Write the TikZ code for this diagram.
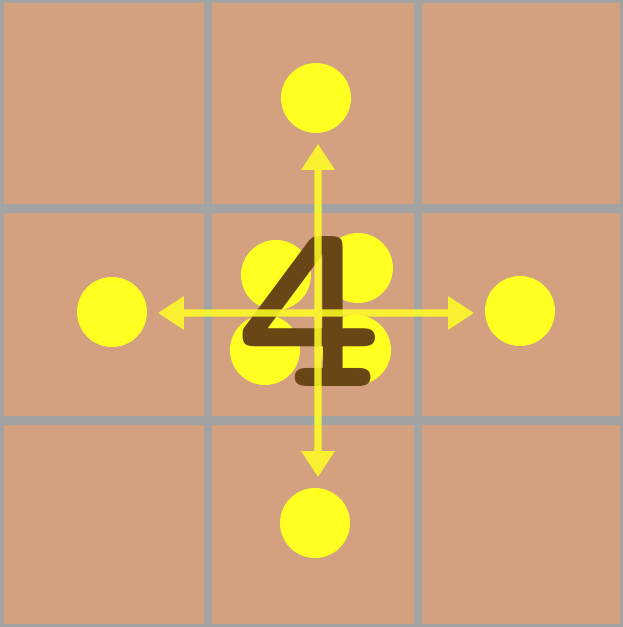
\documentclass[tikz,border=0pt]{standalone}
\usepackage{fontspec}
\usetikzlibrary{arrows.meta, calc}
\definecolor{card}{HTML}{D3A080}
\definecolor{seam}{HTML}{A2A4A4}
\definecolor{sun}{HTML}{FFFF22}
\definecolor{ink}{HTML}{6A4515}
\begin{document}
\begin{tikzpicture}[x=0.02cm, y=-0.02cm,
    tile/.style={fill=card, draw=none},
    dot/.style={circle, fill=sun, draw=none, minimum size=1.4cm, inner sep=0pt},
    push/.style={-{Triangle[length=14.8pt, width=18.2pt]}, line width=4pt, draw=sun, fill=sun, shorten >=6pt}]
    \fill[seam] (0,0) rectangle (623,627);
    \foreach \xa/\xb in {4/204, 212/414, 422/620}
      \foreach \ya/\yb in {3/204, 213/416, 425/624}
        \fill[tile] (\xa,\ya) rectangle (\xb,\yb);
    \node[dot] (ul) at (276,275) {};
    \node[dot] (ur) at (358,268) {};
    \node[dot] (ll) at (265,350) {};
    \node[dot] (lr) at (356,350) {};
    \node[dot] (top) at (316,98) {};
    \node[dot] (bot) at (315,523) {};
    \node[dot] (lft) at (112,312) {};
    \node[dot] (rgt) at (520,311) {};
    \node[text=ink, inner sep=0pt, xscale=1.17, font=\ttfamily\bfseries\fontsize{137}{137}\selectfont] (four) at (309,312) {4};
    \coordinate (ctr) at (318,313);
    \begin{scope}[transparency group, opacity=0.85]
      \draw[push] (ctr) -- (ctr |- top.south);
      \draw[push] (ctr) -- (ctr |- bot.north);
      \draw[push] (ctr) -- (ctr -| lft.east);
      \draw[push] (ctr) -- (ctr -| rgt.west);
    \end{scope}
\end{tikzpicture}
\end{document}
